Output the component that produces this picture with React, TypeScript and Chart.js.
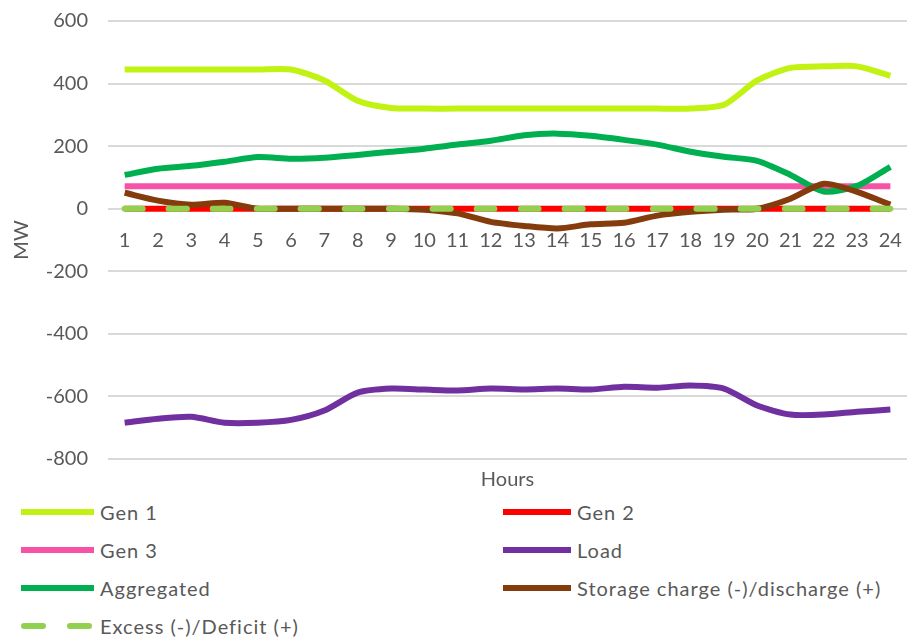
import React, { useEffect, useRef } from "react";
import { Chart, registerables } from "chart.js";

Chart.register(...registerables);

const hours = ["1","2","3","4","5","6","7","8","9","10","11","12","13","14","15","16","17","18","19","20","21","22","23","24"];
const gen1 = [445,445,445,445,445,445,410,345,322,320,320,320,320,320,320,320,320,320,332,410,450,455,455,425];
const gen2 = [0,0,0,0,0,0,0,0,0,0,0,0,0,0,0,0,0,0,0,0,0,0,0,0];
const gen3 = [72,72,72,72,72,72,72,72,72,72,72,72,72,72,72,72,72,72,72,72,72,72,72,72];
const load = [-684,-671,-665,-684,-684,-675,-645,-588,-575,-578,-581,-575,-578,-575,-578,-569,-572,-565,-575,-629,-658,-658,-649,-642];
const aggregated = [108,128,137,150,165,160,163,172,182,192,205,217,235,240,233,220,205,182,166,153,108,55,73,134];
const storage = [51,26,13,19,0,0,0,0,0,-3,-15,-42,-55,-63,-50,-45,-22,-10,-3,0,32,80,54,13];
const excess = [0,0,0,0,0,0,0,0,0,0,0,0,0,0,0,0,0,0,0,0,0,0,0,0];

const yTicks = [-800, -600, -400, -200, 0, 200, 400, 600];

const TEXT = "#595959";
const FONT = "Lato, 'Open Sans', sans-serif";

const series = [
  { label: "Gen 1", data: gen1, color: "#C1F211", order: 6, dashed: false },
  { label: "Gen 2", data: gen2, color: "#FF0000", order: 5, dashed: false },
  { label: "Gen 3", data: gen3, color: "#F653A6", order: 4, dashed: false },
  { label: "Load", data: load, color: "#7030A0", order: 3, dashed: false },
  { label: "Aggregated", data: aggregated, color: "#00B050", order: 2, dashed: false },
  { label: "Storage charge (-)/discharge (+)", data: storage, color: "#843C0C", order: 1, dashed: false },
  { label: "Excess (-)/Deficit (+)", data: excess, color: "#92D050", order: 0, dashed: true },
];

export default function App() {
  const ref = useRef<HTMLCanvasElement>(null);

  useEffect(() => {
    if (!ref.current) return;
    const chart = new Chart(ref.current, {
      type: "line",
      data: {
        labels: hours,
        datasets: series.map((s) => ({
          label: s.label,
          data: s.data,
          borderColor: s.color,
          backgroundColor: s.color,
          borderWidth: 6,
          pointRadius: 0,
          pointHoverRadius: 0,
          tension: 0.25,
          fill: false,
          order: s.order,
          borderDash: s.dashed ? [18, 26] : [],
          borderCapStyle: s.dashed ? "round" : "butt",
        })),
      },
      options: {
        responsive: false,
        animation: false,
        devicePixelRatio: 1,
        layout: { padding: { top: 21, left: 0, right: 0, bottom: 4 } },
        plugins: {
          legend: { display: false },
          tooltip: { enabled: false },
          title: { display: false },
        },
        scales: {
          x: {
            type: "category",
            position: { y: 0 } as any,
            offset: true,
            grid: { display: false, drawTicks: false },
            border: { display: false },
            ticks: { color: TEXT, font: { family: FONT, size: 20, lineHeight: 3.2 }, padding: 0, maxRotation: 0, autoSkip: false },
            afterFit: (axis: any) => {
              axis.paddingLeft = 0;
              axis.paddingRight = 0;
            },
          },
          x2: {
            type: "category",
            position: "bottom",
            labels: hours,
            grid: { display: false, drawTicks: false },
            border: { display: false },
            ticks: { display: false },
            title: { display: true, text: "Hours", color: TEXT, font: { family: FONT, size: 20 }, padding: { top: 9, bottom: 4 } },
            afterFit: (axis: any) => {
              axis.paddingLeft = 0;
              axis.paddingRight = 0;
            },
          },
          y: {
            min: -800,
            max: 600,
            afterBuildTicks: (axis: any) => {
              axis.ticks = yTicks.map((v) => ({ value: v }));
            },
            afterFit: (axis: any) => {
              axis.width = 108;
              axis.paddingTop = 0;
              axis.paddingBottom = 0;
            },
            grid: { color: "#D9D9D9", lineWidth: 2, drawTicks: false },
            border: { display: false },
            ticks: { color: TEXT, font: { family: FONT, size: 20 }, padding: 20 },
            title: { display: true, text: "MW", color: TEXT, font: { family: FONT, size: 20 }, padding: { top: 10, bottom: 12 } },
          },
        },
      },
    });
    return () => chart.destroy();
  }, []);

  const legendItem = (s: typeof series[number], x: number, y: number, lineLen: number) => (
    <div key={s.label} style={{ position: "absolute", left: x, top: y - 12, height: 24, display: "flex", alignItems: "center" }}>
      {s.dashed ? (
        <div style={{ width: lineLen, height: 6, position: "relative", marginRight: 6 }}>
          <div style={{ position: "absolute", left: 0, top: 0, width: 25, height: 6, borderRadius: 3, background: s.color }} />
          <div style={{ position: "absolute", left: 46, top: 0, width: 25, height: 6, borderRadius: 3, background: s.color }} />
        </div>
      ) : (
        <div style={{ width: lineLen, height: 6, background: s.color, marginRight: 6 }} />
      )}
      <span style={{ color: TEXT, fontFamily: FONT, fontSize: 20, lineHeight: "24px", letterSpacing: 1, whiteSpace: "nowrap" }}>{s.label}</span>
    </div>
  );

  return (
    <div style={{ position: "absolute", left: 0, top: 0, width: 907, height: 639, background: "#fff", overflow: "hidden" }}>
      <canvas ref={ref} width={907} height={500} style={{ position: "absolute", left: 0, top: 0, width: 907, height: 500 }} />
      {legendItem(series[0], 21, 512, 73)}
      {legendItem(series[1], 503, 512, 68)}
      {legendItem(series[2], 21, 550, 73)}
      {legendItem(series[3], 503, 550, 68)}
      {legendItem(series[4], 21, 588, 73)}
      {legendItem(series[5], 503, 588, 68)}
      {legendItem(series[6], 21, 626, 73)}
    </div>
  );
}
